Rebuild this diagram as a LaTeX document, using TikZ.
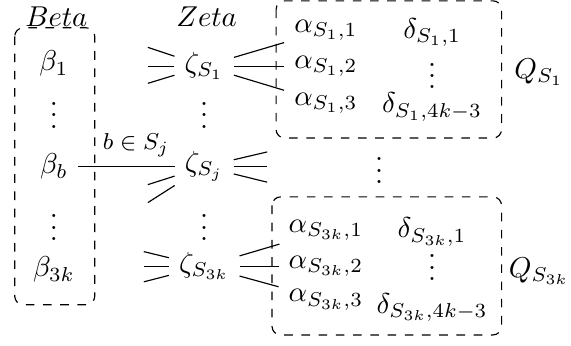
\documentclass[tikz,border=0pt]{standalone}
\usepackage{amsmath,amssymb}
\usepackage{tikz}
\usetikzlibrary{calc}

\newcommand{\colvdots}{\vbox{\baselineskip4pt\lineskiplimit0pt\hbox{.}\hbox{.}\hbox{.}}}

\begin{document}
\begin{tikzpicture}[
    grp/.style={draw, dashed, rounded corners=3pt},
    link/.style={draw, thin},
    vdts/.style={inner sep=0pt},
    cell/.style={inner xsep=3.33pt, inner ysep=1pt},
    qname/.style={anchor=center}
  ]
  \useasboundingbox (0,0) rectangle (6.99,-4.235);

  % headers
  \node (betahd) at (0.69,-0.21) {$Beta$};
  \node (zetahd) at (2.53,-0.21) {$Zeta$};

  % beta column
  \node (b1)          at (0.66,-0.78) {$\beta_1$};
  \node[vdts] (bv1)   at (0.66,-1.41) {$\colvdots$};
  \node (bb)          at (0.66,-2.04) {$\beta_b$};
  \node[vdts] (bv2)   at (0.66,-2.79) {$\colvdots$};
  \node (b3k)         at (0.66,-3.30) {$\beta_{3k}$};
  \draw[grp] (0.18,-0.34) rectangle (1.16,-3.73);

  % zeta column
  \node (z1)          at (2.50,-0.81) {$\zeta_{S_1}$};
  \node[vdts] (zv1)   at (2.50,-1.41) {$\colvdots$};
  \node (zj)          at (2.50,-2.04) {$\zeta_{S_j}$};
  \node[vdts] (zv2)   at (2.50,-2.79) {$\colvdots$};
  \node (z3k)         at (2.50,-3.26) {$\zeta_{S_{3k}}$};

  % gadget Q_{S_1}
  \node[cell] (a11)   at (3.99,-0.37) {$\alpha_{S_1,1}$};
  \node[cell] (a12)   at (3.99,-0.81) {$\alpha_{S_1,2}$};
  \node[cell] (a13)   at (3.99,-1.26) {$\alpha_{S_1,3}$};
  \node[cell] (d11)   at (5.29,-0.40) {$\delta_{S_1,1}$};
  \node[vdts] (dv1)   at (5.29,-0.93) {$\colvdots$};
  \node[cell] (d1n)   at (5.29,-1.31) {$\delta_{S_1,4k-3}$};
  \draw[grp] (3.38,-0.01) rectangle (6.14,-1.69);
  \node[qname] (q1)   at (6.60,-0.88) {$Q_{S_1}$};

  \node[vdts] (qv)    at (4.64,-2.09) {$\colvdots$};

  % gadget Q_{S_{3k}}
  \node[cell] (a31)   at (3.99,-2.82) {$\alpha_{S_{3k},1}$};
  \node[cell] (a32)   at (3.99,-3.26) {$\alpha_{S_{3k},2}$};
  \node[cell] (a33)   at (3.99,-3.67) {$\alpha_{S_{3k},3}$};
  \node[cell] (d31)   at (5.29,-2.84) {$\delta_{S_{3k},1}$};
  \node[vdts] (dv3)   at (5.29,-3.28) {$\colvdots$};
  \node[cell] (d3n)   at (5.29,-3.76) {$\delta_{S_{3k},4k-3}$};
  \draw[grp] (3.33,-2.41) rectangle (6.14,-4.10);
  \node[qname] (q3)   at (6.60,-3.32) {$Q_{S_{3k}}$};

  % edges
  \draw[link] (bb) -- node[above, pos=0.6, font=\footnotesize] {$b\in S_j$} (zj);
  \foreach \i in {1,2,3} {
    \draw[link] (z1) -- (a1\i);
    \draw[link] (z3k) -- (a3\i);
  }

  % loose ends
  \foreach \dy [count=\i] in {0.23,0,-0.21} {
    \coordinate (z1l\i) at ($(z1)+(-0.69,\dy)$);
    \draw[link] (z1) -- (z1l\i);
  }
  \foreach \dy [count=\i] in {-0.22,-0.44} {
    \coordinate (zjl\i) at ($(zj)+(-0.69,\dy)$);
    \draw[link] (zj) -- (zjl\i);
  }
  \foreach \dy [count=\i] in {0.18,0,-0.19} {
    \coordinate (zjr\i) at ($(zj)+(0.77,\dy)$);
    \draw[link] (zj) -- (zjr\i);
    \coordinate (z3l\i) at ($(z3k)+(-0.74,\dy)$);
    \draw[link] (z3k) -- (z3l\i);
  }
\end{tikzpicture}
\end{document}
